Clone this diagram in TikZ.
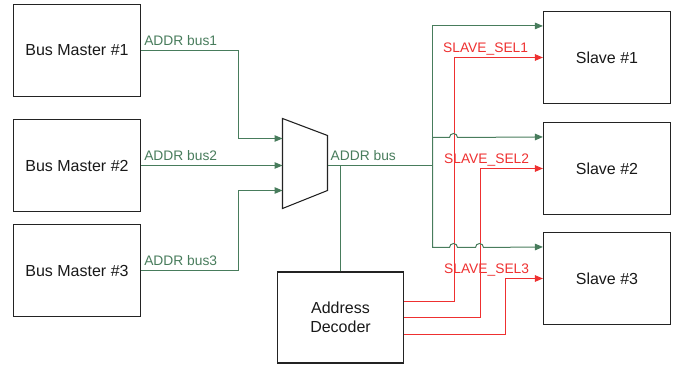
\documentclass[tikz,border=0pt]{standalone}
\usepackage{fontspec}
\setmainfont{Liberation Sans}
\usepackage{xcolor}
\usepackage{tikz}
\usetikzlibrary{arrows.meta,positioning,calc}
\definecolor{busgreen}{RGB}{72,124,92}
\definecolor{selred}{RGB}{238,48,48}
\definecolor{boxline}{RGB}{35,35,35}

\tikzset{
  blockbox/.style={draw=boxline,line width=1.1pt,minimum width=127pt,minimum height=92pt,
    inner sep=0pt,align=center,text=black!90,font=\fontsize{16}{19.5}\selectfont},
  busline/.style={draw=busgreen,line width=1pt},
  selline/.style={draw=selred,line width=1pt},
  tip/.style={-{Triangle[length=8pt,width=6.5pt]}},
  buslabel/.style={anchor=base west,inner sep=0pt,text=busgreen,font=\fontsize{13.8}{16}\selectfont},
  sellabel/.style={anchor=base west,inner sep=0pt,text=selred,font=\fontsize{13.8}{16}\selectfont}
}

\begin{document}
\begin{tikzpicture}[x=1pt,y=1pt]
  \useasboundingbox (0,0) rectangle (677,364);
  \begin{scope}[shift={(0.5,0.5)}]
  % masters on the left, slaves on the right
  \node[blockbox] (master1) at (76.5,313) {Bus Master \#1};
  \node[blockbox] (master2) at (76.5,198) {Bus Master \#2};
  \node[blockbox] (master3) at (76.5,93) {Bus Master \#3};
  \node[blockbox] (slave1) at (606.5,306) {Slave \#1};
  \node[blockbox] (slave2) at (606.5,195) {Slave \#2};
  \node[blockbox] (slave3) at (606.5,85) {Slave \#3};
  \node[blockbox,minimum width=126pt,minimum height=91pt] (decoder) at (340,46) {Address\\Decoder};

  % the mux
  \draw[draw=boxline,line width=1.1pt] (282,245) -- (327,228) -- (327,173) -- (282,155) -- cycle;
  \coordinate (mux in1) at (282,225);
  \coordinate (mux in2) at (282,198);
  \coordinate (mux in3) at (282,173);
  \coordinate (mux out) at (327,198);
  \coordinate (split) at (432,198);

  % address buses into the mux
  \draw[busline,tip] (master1.east) -- ++(97,0) |- (mux in1);
  \draw[busline,tip] (master2.east) -- (mux in2);
  \draw[busline,tip] (master3.east) -- ++(97,0) |- (mux in3);
  \node[buslabel] (lbl bus1) at ([shift={(3pt,5pt)}]master1.east) {ADDR bus1};
  \node[buslabel] (lbl bus2) at ([shift={(3pt,5pt)}]master2.east) {ADDR bus2};
  \node[buslabel] (lbl bus3) at ([shift={(3pt,5pt)}]master3.east) {ADDR bus3};

  % shared bus out of the mux
  \draw[busline] (mux out) -- (split);
  \draw[busline] (decoder.north) -- (decoder.north |- mux out);
  \node[buslabel] (lbl bus) at ([shift={(3pt,5pt)}]mux out) {ADDR bus};

  % select lines from the decoder
  \draw[selline,tip] ([yshift=16pt]decoder.east) -- ++(50,0) |- (slave1.west);
  \draw[selline,tip] (decoder.east) -- ++(76,0) |- (slave2.west);
  \draw[selline,tip] ([yshift=-17pt]decoder.east) -- ++(101,0) |- (slave3.west);
  \node[sellabel] (lbl sel1) at ([shift={(-100pt,5pt)}]slave1.west) {SLAVE\_SEL1};
  \node[sellabel] (lbl sel2) at ([shift={(-99pt,5pt)}]slave2.west) {SLAVE\_SEL2};
  \node[sellabel] (lbl sel3) at ([shift={(-99pt,5pt)}]slave3.west) {SLAVE\_SEL3};

  % bus fan-out to the slaves, hopping over the select lines
  \coordinate (slave1 bus) at ([yshift=-15pt]slave1.north west);
  \coordinate (slave2 bus) at ([yshift=-15pt]slave2.north west);
  \coordinate (slave3 bus) at ([yshift=-15pt]slave3.north west);
  \draw[busline,tip] (split) |- (slave1 bus);
  \draw[busline,tip] (split) |- (449,226) arc[start angle=180,end angle=0,radius=4pt] -- (slave2 bus);
  \draw[busline,tip] (split) |- (449,116) arc[start angle=180,end angle=0,radius=4pt]
    -- (475,116) arc[start angle=180,end angle=0,radius=4pt] -- (slave3 bus);
  \end{scope}
\end{tikzpicture}
\end{document}
